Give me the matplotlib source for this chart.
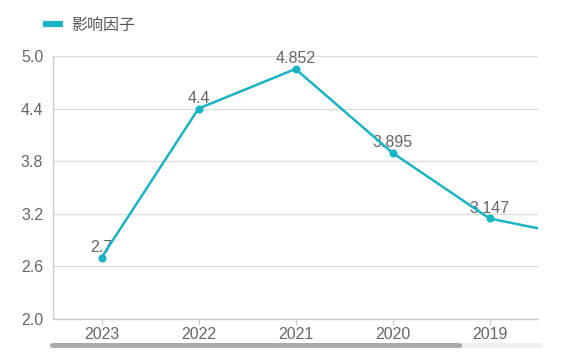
import matplotlib
matplotlib.use("Agg")
import matplotlib.pyplot as plt
from matplotlib.patches import FancyBboxPatch

plt.rcParams['font.family'] = ['Liberation Sans', 'Noto Sans CJK SC', 'DejaVu Sans']

years = ["2023", "2022", "2021", "2020", "2019", "2018"]
values = [2.7, 4.4, 4.852, 3.895, 3.147, 2.921]
labels = ["2.7", "4.4", "4.852", "3.895", "3.147", "2.921"]
yticks = [2.0, 2.6, 3.2, 3.8, 4.4, 5.0]
series_name = "影响因子"

color = "#1ab3c4"
W, H = 562, 364
fig = plt.figure(figsize=(W / 100, H / 100), dpi=100)
ax = fig.add_axes([53 / W, (H - 319) / H, (538 - 53) / W, (319 - 56) / H])

x = list(range(len(years)))
ax.plot(x, values, color=color, lw=1.8, marker="o", ms=4.8, zorder=3,
        clip_on=True, label=series_name)
for xi, v, lab in zip(x, values, labels):
    if xi <= 4:
        ax.annotate(lab, (xi, v), xytext=(0, 4), textcoords="offset points",
                    ha="center", va="baseline", fontsize=11.5, color="#666666",
                    zorder=2)

ax.set_xlim(-0.5, 4.5)
ax.set_ylim(2.0, 5.0)
ax.set_xticks(x[:5])
ax.set_xticklabels(years[:5])
ax.set_yticks(yticks)
ax.set_yticklabels([f"{t:.1f}" for t in yticks])
ax.tick_params(axis="x", length=4, color="#cccccc", labelsize=11.5,
               labelcolor="#666666", pad=2)
ax.tick_params(axis="y", length=0, labelsize=11.5, labelcolor="#666666", pad=7)
ax.grid(axis="y", color="#dddddd", lw=1)
ax.set_axisbelow(True)
for s in ["top", "right"]:
    ax.spines[s].set_visible(False)
for s in ["left", "bottom"]:
    ax.spines[s].set_color("#cccccc")
    ax.spines[s].set_linewidth(1)

# legend
leg = fig.legend(handles=ax.get_lines(), loc="center left",
                 bbox_to_anchor=(29 / W, 1 - 25 / H), frameon=False,
                 handlelength=1.25, handletextpad=0.5,
                 labelcolor="#555555", prop={'family': ['Noto Sans CJK SC', 'DejaVu Sans'], 'size': 11.5})
for h in leg.legend_handles:
    h.set_marker("")
    h.set_linewidth(4.5)
    h.set_solid_capstyle("butt")

# scrollbar (data zoom)
fig.patches.append(FancyBboxPatch((50 / W, (H - 348) / H), 493 / W, 5 / H,
                                  boxstyle="round,pad=0,rounding_size=0.006",
                                  transform=fig.transFigure, fc="#eeeeee", ec="none"))
fig.patches.append(FancyBboxPatch((50 / W, (H - 348) / H), 412 / W, 5 / H,
                                  boxstyle="round,pad=0,rounding_size=0.006",
                                  transform=fig.transFigure, fc="#aaaaaa", ec="none"))

fig.savefig("out.png", dpi=100)
